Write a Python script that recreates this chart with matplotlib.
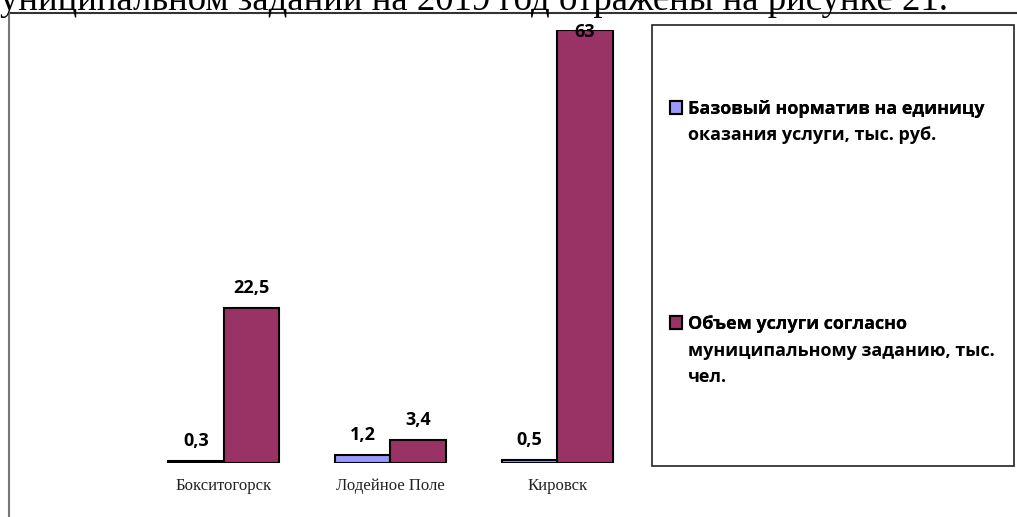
import numpy as np
import matplotlib
matplotlib.use("Agg")
import matplotlib.pyplot as plt
from matplotlib.lines import Line2D
from matplotlib.patches import Rectangle
from matplotlib.font_manager import FontProperties

categories = ["Бокситогорск", "Лодейное Поле", "Кировск"]
base_rate = [0.3, 1.2, 0.5]
volume = [22.5, 3.4, 63]
base_labels = ["0,3", "1,2", "0,5"]
volume_labels = ["22,5", "3,4", "63"]
series_names = [["Базовый норматив на единицу", "оказания услуги, тыс. руб."],
                ["Объем услуги согласно", "муниципальному заданию, тыс.", "чел."]]

W, H = 1017, 517
fig = plt.figure(figsize=(W / 100, H / 100), dpi=100)

# cut-off line of document text above the chart
fig.text(0, 1 - 9.5 / H, "униципальном задании на 2019 год отражены на рисунке 21.",
         family="Liberation Serif", fontsize=26.5, va="baseline", ha="left")

# outer chart frame (only top and left edges visible)
fig.add_artist(Line2D([9 / W, 1], [1 - 12.5 / H, 1 - 12.5 / H], color="#333333", lw=1.5))
fig.add_artist(Line2D([9 / W, 9 / W], [0, 1 - 12.5 / H], color="#777777", lw=1.5))

ax = fig.add_axes([140.5 / W, 54 / H, 500 / W, 433 / H])
x = np.arange(len(categories))
bw = 1 / 3
b1 = ax.bar(x - bw / 2, base_rate, bw, color="#9999FF", edgecolor="black", linewidth=1.5)
b2 = ax.bar(x + bw / 2, volume, bw, color="#993366", edgecolor="black", linewidth=1.5)
ax.set_xlim(-0.5, 2.5)
ymax = 63
ax.set_ylim(0, ymax)
ax.axis("off")

lbl_font = dict(family="Open Sans", fontweight="bold", fontsize=13)
for xs, vals, labs in [(x - bw / 2, base_rate, base_labels), (x + bw / 2, volume, volume_labels)]:
    for xi, v, t in zip(xs, vals, labs):
        ax.text(xi, min(v + 2.9, ymax - 0.3), t, ha="center", va="center",
                clip_on=False, **lbl_font)

for xi, c in zip(x, categories):
    ax.text(xi, -3.4, c, ha="center", va="center", family="Liberation Serif",
            fontsize=12, color="#222222")

# legend box
fig.add_artist(Rectangle((652 / W, 1 - 466 / H), 362 / W, 441 / H, transform=fig.transFigure,
                         facecolor="none", edgecolor="#222222", lw=1.2))

leg_prop = FontProperties(family="Open Sans", weight="bold", size=13)
line_step = 26.5  # px between legend text lines
legends = []
for bars, lines, ytop in [(b1, series_names[0], 100), (b2, series_names[1], 315)]:
    leg = fig.legend([bars], [lines[0]], loc="upper left",
                     bbox_to_anchor=(670 / W, 1 - ytop / H), frameon=False, prop=leg_prop,
                     handlelength=0.68, handleheight=0.68, handletextpad=0.3,
                     borderpad=0, borderaxespad=0)
    fig.add_artist(leg)
    legends.append((leg, lines))

# continuation lines of the legend labels, aligned under the first line
fig.canvas.draw()
renderer = fig.canvas.get_renderer()
_, _, d_lp = renderer.get_text_width_height_descent("lp", leg_prop, ismath=False)
for leg, lines in legends:
    bb = leg.get_texts()[0].get_window_extent(renderer)
    base = bb.y0 + d_lp
    for k, line in enumerate(lines[1:], start=1):
        fig.text(bb.x0 / W, (base - k * line_step) / H, line, fontproperties=leg_prop,
                 va="baseline", ha="left")

fig.savefig("out.png", dpi=100)
